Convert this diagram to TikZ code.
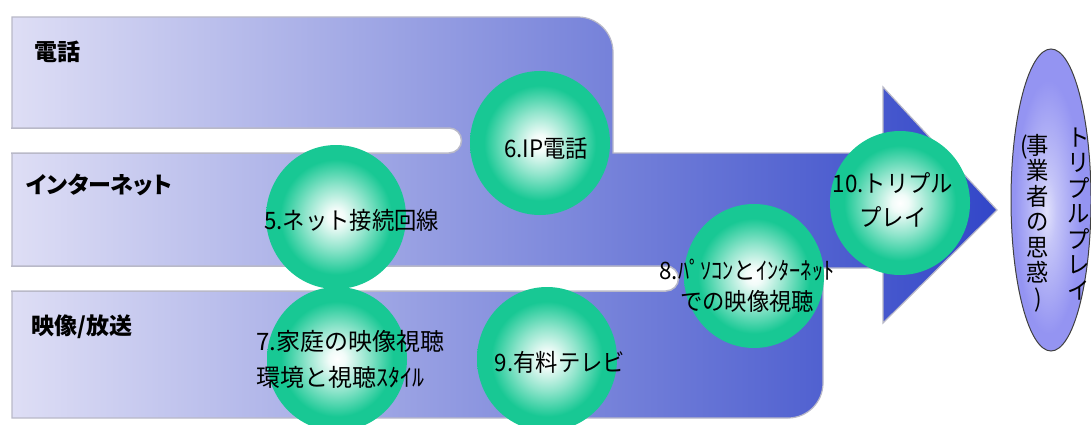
\documentclass[tikz,border=0pt]{standalone}
\usepackage{fontspec}
\setmainfont{Noto Sans CJK JP}
\newfontfamily\jp[FakeStretch=0.93]{Noto Sans CJK JP}
\newfontfamily\jpw{Noto Sans CJK JP}
\newfontfamily\jpl[RawFeature=+palt]{Noto Sans CJK JP}
\usetikzlibrary{shapes.geometric}
\definecolor{bandL}{RGB}{222,222,245}
\definecolor{bandR}{RGB}{50,70,200}
\definecolor{ballc}{RGB}{24,200,148}
\definecolor{ovalc}{RGB}{148,148,242}
\definecolor{edgec}{RGB}{185,185,200}
\pgfdeclareradialshading{ball}{\pgfpoint{0bp}{0bp}}{color(0bp)=(white); color(3bp)=(white!94!ballc); color(11bp)=(white!52!ballc); color(20bp)=(ballc); color(50bp)=(ballc)}
\pgfdeclareradialshading{oval}{\pgfpoint{-3bp}{-2bp}}{color(0bp)=(white!72!ovalc); color(6bp)=(white!45!ovalc); color(21bp)=(ovalc); color(50bp)=(ovalc)}
\begin{document}
\begin{tikzpicture}[x=1pt,y=-1pt,
  ballnode/.style={ellipse, inner sep=0pt, minimum width=140, minimum height=144, shade, shading=ball},
  gapfill/.style={fill=white},
  gapedge/.style={draw=edgec, line width=1.5pt},
  lab/.style={font=\jpl\bfseries\fontsize{23}{26}\selectfont, anchor=west, inner sep=0pt},
  ctext/.style={font=\jp\fontsize{24}{33}\selectfont, align=center, inner sep=0pt},
  vtext/.style={font=\jp\fontsize{24}{25.5}\selectfont, align=center, inner sep=0pt}]
\useasboundingbox (0,0) rectangle (1091,425);
% main banded arrow
\shade[left color=bandL, right color=bandR, draw=edgec, line width=1.2pt]
  (12,418) -- (12,17) -- (578,17) arc[start angle=-90, end angle=0, radius=35]
  -- (613,153) -- (883,153) -- (883,87) -- (997,210) -- (883,323) -- (883,268)
  -- (823,268) -- (823,383) arc[start angle=0, end angle=90, radius=35] -- cycle;
% white gaps between bands
\path[gapfill] (11,128) -- (449,128) arc[start angle=-90, end angle=90, radius=12.5] -- (11,153) -- cycle;
\draw[gapedge] (11,128) -- (449,128) arc[start angle=-90, end angle=90, radius=12.5] -- (11,153);
\path[gapfill] (11,266) -- (666,266) arc[start angle=-90, end angle=90, radius=12.5] -- (11,291) -- cycle;
\draw[gapedge] (11,266) -- (666,266) arc[start angle=-90, end angle=90, radius=12.5] -- (11,291);
% band labels
\node[lab] (l1) at (34,52) {電話};
\node[lab] (l2) at (26,185) {インターネット};
\node[lab] (l3) at (31,327) {映像/放送};
% balls
\node[ballnode] (c5) at (336,217) {};
\node[ballnode] (c6) at (540,143) {};
\node[ballnode] (c7) at (337,359) {};
\node[ballnode] (c9) at (547,359) {};
\node[ballnode] (c8) at (754,276) {};
\node[ballnode] (c10) at (900,203) {};
% ball texts
\node[ctext, anchor=west] (t5) at (264,220) {5.ネット接続回線};
\node[ctext] (t6) at (546,149) {6.IP電話};
\node[ctext, anchor=west, align=left, font=\jpw\fontsize{24}{36}\selectfont] (t7) at (256,359) {7.家庭の映像視聴\\環境と視聴ｽﾀｲﾙ};
\node[ctext] (t9) at (560,362) {9.有料テレビ};
\node[ctext, font=\jp\fontsize{24}{31}\selectfont] (t8) at (747,286) {8.ﾊﾟｿｺﾝとｲﾝﾀｰﾈｯﾄ\\での映像視聴};
\node[ctext, font=\jp\fontsize{24}{34}\selectfont] (t10) at (893,200) {10.トリプル\\プレイ};
% right oval
\node[ellipse, inner sep=0pt, minimum width=80, minimum height=302, shade, shading=oval, draw=black!75, line width=1pt] (ov) at (1051,200) {};
\node[vtext] (v1) at (1079,214) {ト\\リ\\プ\\ル\\プ\\レ\\イ};
\node[vtext] (v2) at (1038,223) {\llap{(\kern-1pt}事\\業\\者\\の\\思\\惑\\)};
\end{tikzpicture}
\end{document}
